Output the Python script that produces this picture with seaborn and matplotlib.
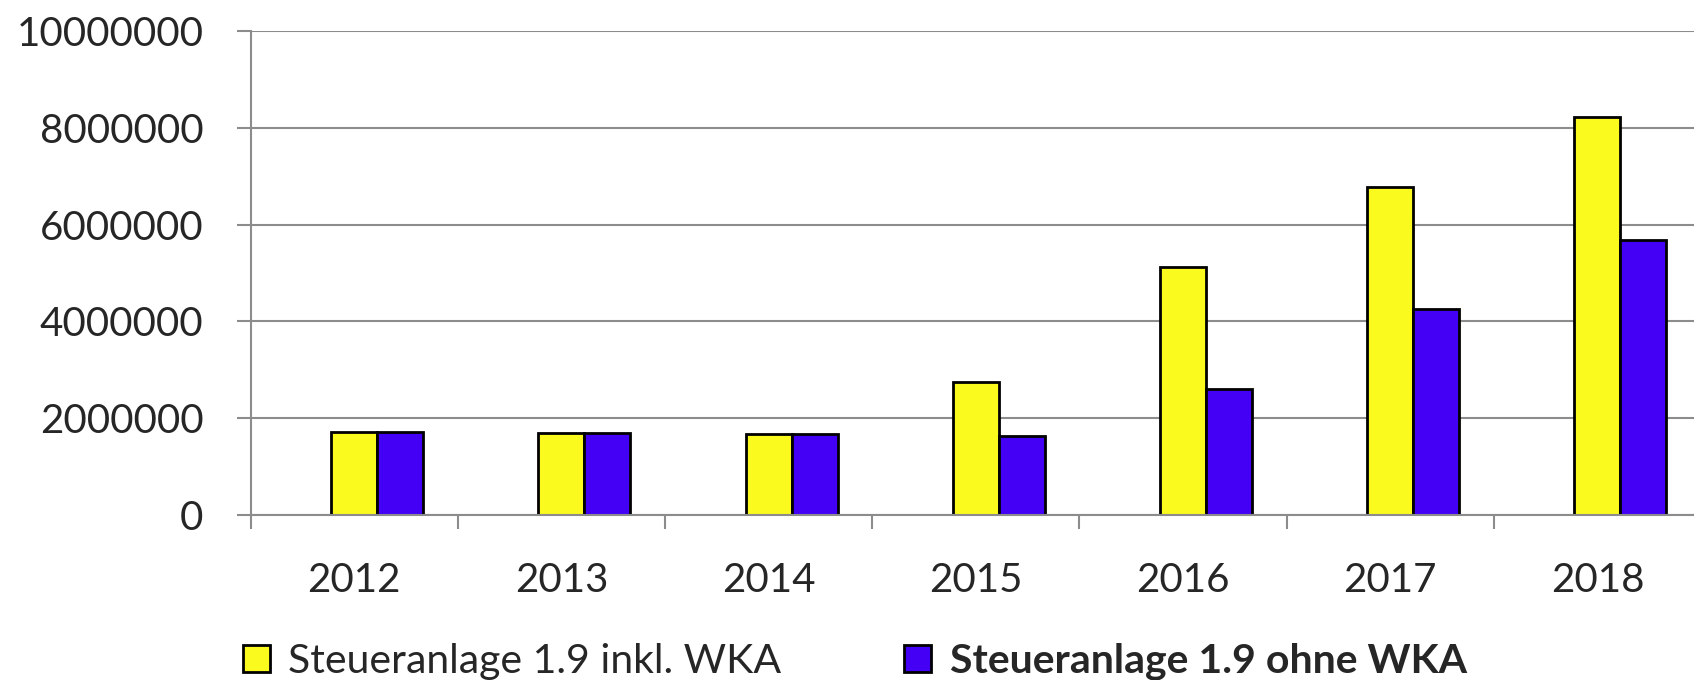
import matplotlib.pyplot as plt
import seaborn as sns
import pandas as pd
import numpy as np

years = ["2012", "2013", "2014", "2015", "2016", "2017", "2018"]
inkl_wka = [1710000, 1690000, 1670000, 2740000, 5130000, 6780000, 8230000]
ohne_wka = [1710000, 1690000, 1670000, 1640000, 2600000, 4260000, 5680000]
series_names = ["Steueranlage 1.9 inkl. WKA", "Steueranlage 1.9 ohne WKA"]
y_ticks = [0, 2000000, 4000000, 6000000, 8000000, 10000000]

df = pd.DataFrame({
    "Jahr": years * 2,
    "Wert": inkl_wka + ohne_wka,
    "Serie": [series_names[0]] * len(years) + [series_names[1]] * len(years),
})

sns.set_style("white")
plt.rcParams['font.family'] = ['Lato', 'DejaVu Sans']

fig = plt.figure(figsize=(16.94, 6.80), dpi=100)
ax = fig.add_axes([0.148, 0.2426, 0.852, 0.7118])

bar_w = 0.444
sns.barplot(data=df, x="Jahr", y="Wert", hue="Serie", ax=ax,
            palette=["#FAFA1E", "#4400F5"], width=bar_w, gap=0,
            edgecolor="black", linewidth=2, saturation=1, legend=True)

# yellow bar sits on the category centre, purple one to its right
shift = bar_w / 4
centers = np.arange(len(years)) - shift
ax.set_xticks(centers, labels=years)
ax.set_xticks(np.arange(len(years) + 1) - shift - 0.5, minor=True)
ax.set_xlim(-shift - 0.5, -shift - 0.5 + 6.966)
ax.set_ylim(0, 10000000)
ax.set_yticks(y_ticks, labels=[str(v) for v in y_ticks])

ax.yaxis.grid(True, color="#8c8c8c", linewidth=1.5)
ax.set_axisbelow(True)
ax.set_xlabel("")
ax.set_ylabel("")

for side in ["top", "right"]:
    ax.spines[side].set_visible(False)
for side in ["left", "bottom"]:
    ax.spines[side].set_color("#8c8c8c")
    ax.spines[side].set_linewidth(1.5)

ax.tick_params(axis="x", which="major", length=0, pad=34, labelsize=29)
ax.tick_params(axis="x", which="minor", length=10, width=1.5, color="#8c8c8c",
               direction="out", bottom=True)
ax.tick_params(axis="y", length=10, width=1.5, color="#8c8c8c", direction="out",
               left=True, pad=24, labelsize=29)

ax.get_legend().remove()
handles, labels = ax.get_legend_handles_labels()
leg = fig.legend(handles, labels, loc="center left", bbox_to_anchor=(0.134, 0.027),
                 ncol=2, frameon=False, fontsize=29.5, handlelength=0.65,
                 handleheight=0.65, handletextpad=0.45, columnspacing=3.0,
                 borderaxespad=0)
leg.get_texts()[1].set_fontweight("bold")

fig.savefig("out.png", dpi=100)
